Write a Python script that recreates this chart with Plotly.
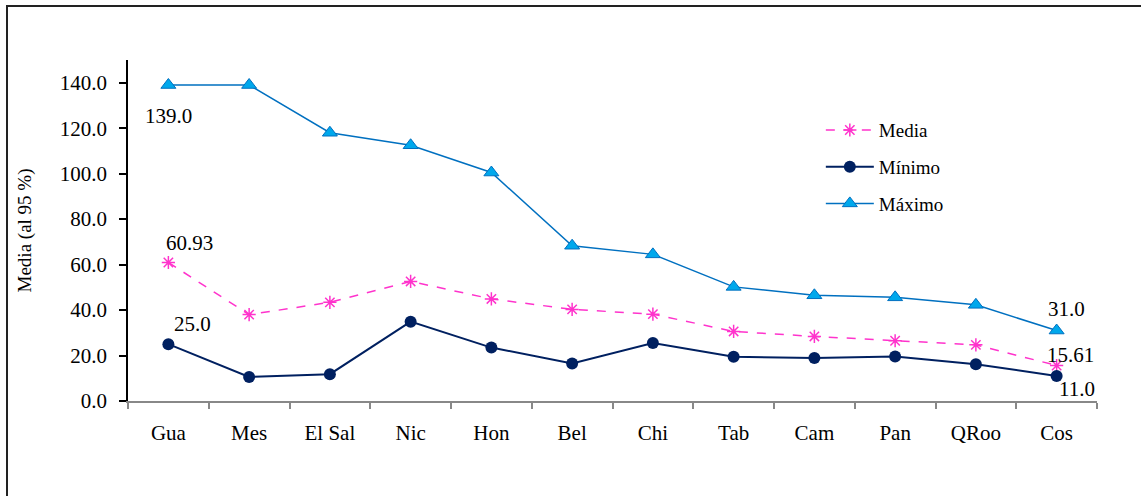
import plotly.graph_objects as go

categories = ["Gua", "Mes", "El Sal", "Nic", "Hon", "Bel", "Chi", "Tab", "Cam", "Pan", "QRoo", "Cos"]
media = [60.93, 38.0, 43.4, 52.6, 44.9, 40.3, 38.2, 30.6, 28.4, 26.5, 24.7, 15.61]
minimo = [25.0, 10.6, 11.8, 34.9, 23.5, 16.5, 25.5, 19.5, 18.9, 19.6, 16.2, 11.0]
maximo = [139.0, 139.0, 118.0, 112.5, 100.5, 68.3, 64.5, 50.2, 46.5, 45.6, 42.3, 31.0]
y_ticks = [0, 20, 40, 60, 80, 100, 120, 140]

FONT = "Liberation Serif, Times New Roman, serif"

fig = go.Figure()
fig.add_trace(go.Scatter(
    x=categories, y=media, name="Media", mode="lines+markers",
    line=dict(color="#FF33CC", width=1.5, dash="dash"),
    marker=dict(symbol="asterisk-open", size=11, color="#FF33CC",
                line=dict(color="#FF33CC", width=1.5)),
    legendgroup="a"))
fig.add_trace(go.Scatter(
    x=categories, y=minimo, name="Mínimo", mode="lines+markers",
    line=dict(color="#002060", width=2),
    marker=dict(symbol="circle", size=12, color="#002060"),
    legendgroup="b"))
fig.add_trace(go.Scatter(
    x=categories, y=maximo, name="Máximo", mode="lines+markers",
    line=dict(color="#0070C0", width=1.5),
    marker=dict(symbol="triangle-up", size=13, color="#00A8EC",
                line=dict(color="#0070C0", width=1)),
    legendgroup="c"))

ann = [
    (categories[0], maximo[0], f"{maximo[0]:.1f}", 0, -31),
    (categories[0], media[0], f"{media[0]:.2f}", 21, 19),
    (categories[0], minimo[0], f"{minimo[0]:.1f}", 24, 20),
    (categories[-1], maximo[-1], f"{maximo[-1]:.1f}", 10, 22),
    (categories[-1], media[-1], f"{media[-1]:.2f}", 14, 11),
    (categories[-1], minimo[-1], f"{minimo[-1]:.1f}", 20, -13),
]
for x, y, t, xs, ys in ann:
    fig.add_annotation(x=x, y=y, text=t, showarrow=False, xshift=xs, yshift=ys,
                       font=dict(family=FONT, size=21, color="black"))

# outer frame
fig.add_shape(type="rect", xref="paper", yref="paper",
              x0=(7 - 128) / 969, x1=1.2, y0=-0.5, y1=(401 - 6) / 341,
              line=dict(color="#222222", width=2), layer="below")

fig.update_layout(
    width=1141, height=496,
    margin=dict(l=128, r=44, t=60, b=95),
    paper_bgcolor="white", plot_bgcolor="white",
    font=dict(family=FONT, size=20, color="black"),
    showlegend=True,
    legend=dict(x=0.715, y=0.85, xanchor="left", yanchor="top",
                bgcolor="rgba(0,0,0,0)", font=dict(size=19, family=FONT),
                tracegroupgap=9, traceorder="grouped", itemwidth=48),
    xaxis=dict(type="category", showgrid=False, showline=True, linecolor="#888888",
               linewidth=1.5, ticks="outside", tickson="boundaries", ticklen=6,
               tickcolor="#888888", tickwidth=1.5, tickfont=dict(size=21),
               ticklabelstandoff=12, range=[-0.5, 11.5]),
    yaxis=dict(range=[0, 150], tickvals=y_ticks, tickformat=".1f", showgrid=False,
               showline=True, linecolor="black", linewidth=1.5, ticks="outside",
               ticklen=7, tickcolor="black", tickwidth=1.5, zeroline=False,
               tickfont=dict(size=21), ticklabelstandoff=8,
               title=dict(text="Media (al 95 %)", font=dict(size=19), standoff=23)),
)

fig.write_html("out.html")
